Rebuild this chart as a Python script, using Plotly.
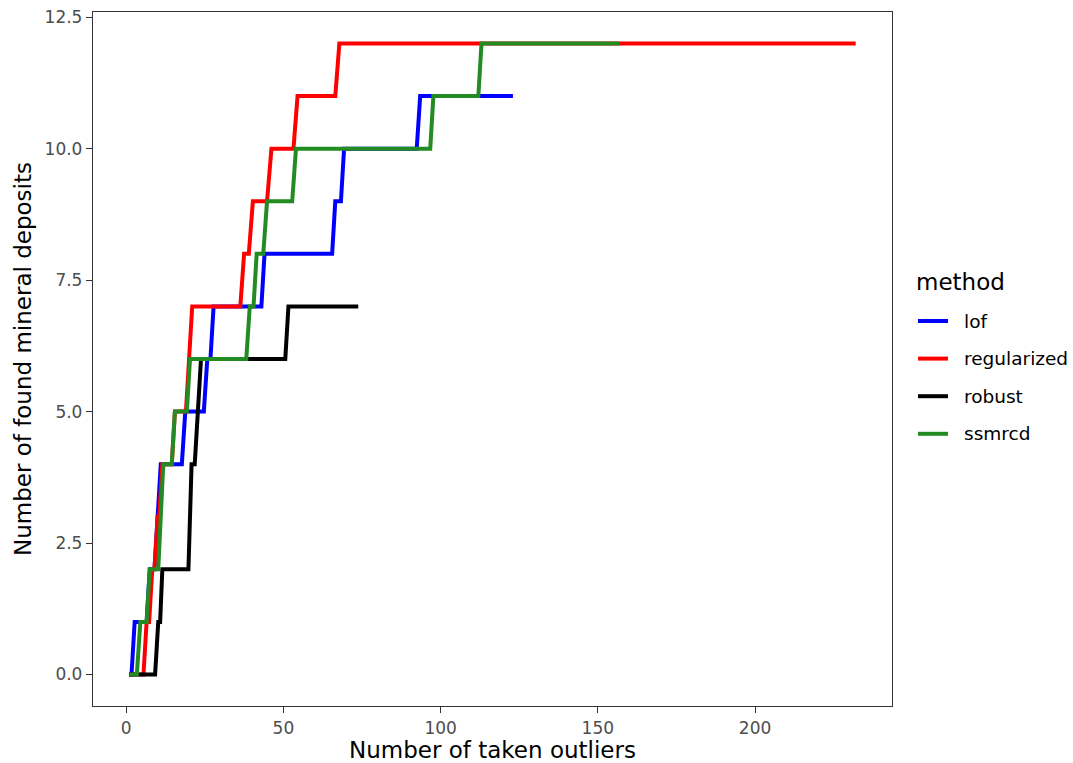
import plotly.graph_objects as go

# Corner points of each cumulative step line (x = number of taken outliers, y = found deposits)
methods = ["lof", "regularized", "robust", "ssmrcd"]
colors = {"lof": "#0000FF", "regularized": "#FF0000", "robust": "#000000", "ssmrcd": "#228B22"}

lof_x = [1, 1.7, 2.7, 6.5, 7.5, 9, 10, 11, 17.7, 18.8, 24.7, 25.8, 26.8, 27.8, 43, 44, 65.5, 66.5, 68.3, 69.3, 92.4, 93.5, 123]
lof_y = [0, 0, 1, 1, 2, 2, 3, 4, 4, 5, 5, 6, 6, 7, 7, 8, 8, 9, 9, 10, 10, 11, 11]

regularized_x = [1, 5.5, 6.5, 7.3, 8.3, 9, 10, 10.5, 11.5, 14.5, 15.5, 19, 20, 21, 36.3, 37.5, 39, 40.3, 44.8, 46.2, 53.2, 54.5, 66.5, 67.8, 232]
regularized_y = [0, 0, 1, 1, 2, 2, 3, 3, 4, 4, 5, 5, 6, 7, 7, 8, 8, 9, 9, 10, 10, 11, 11, 12, 12]

robust_x = [1, 9.2, 10.2, 10.8, 11.5, 19.8, 20.8, 21.8, 22.8, 23.8, 50.6, 51.6, 73.8]
robust_y = [0, 0, 1, 1, 2, 2, 4, 4, 5, 6, 6, 7, 7]

ssmrcd_x = [1, 3.4, 4.5, 6.5, 7.5, 10.2, 11.8, 14.5, 15.5, 19.3, 20.3, 38.2, 39.3, 40.5, 41.5, 43.6, 44.8, 52.8, 54, 96.7, 97.7, 112, 113, 157]
ssmrcd_y = [0, 0, 1, 1, 2, 2, 4, 4, 5, 5, 6, 6, 7, 7, 8, 8, 9, 9, 10, 10, 11, 11, 12, 12]

series = {
    "lof": (lof_x, lof_y),
    "regularized": (regularized_x, regularized_y),
    "robust": (robust_x, robust_y),
    "ssmrcd": (ssmrcd_x, ssmrcd_y),
}

x_ticks = [0, 50, 100, 150, 200]
y_ticks = [0, 2.5, 5, 7.5, 10, 12.5]
y_tick_labels = ["0.0", "2.5", "5.0", "7.5", "10.0", "12.5"]
legend_title = "method"

FONT = "DejaVu Sans, Liberation Sans, sans-serif"

W, H = 1073, 763
ML, MR, MT, MB = 93, 181, 12, 57
PW, PH = W - ML - MR, H - MT - MB


def px_x(px):
    return (px - ML) / PW


def px_y(py):
    return (H - MB - py) / PH


fig = go.Figure()
for m in methods:
    xs, ys = series[m]
    fig.add_trace(go.Scatter(
        x=xs, y=ys, mode="lines", name=m, showlegend=False,
        line=dict(color=colors[m], width=4),
    ))

# expanded ranges like ggplot (5% on each side)
all_x = lof_x + regularized_x + robust_x + ssmrcd_x
all_y = lof_y + regularized_y + robust_y + ssmrcd_y
xmin, xmax = min(all_x), max(all_x)
ymin, ymax = min(all_y), max(all_y)
xpad = (xmax - xmin) * 0.05
ypad = (ymax - ymin) * 0.05

# ggplot-style legend placed to the right of the panel
shapes = []
annotations = [dict(
    text=legend_title, xref="paper", yref="paper", x=px_x(914), y=px_y(282),
    xanchor="left", yanchor="middle", showarrow=False,
    font=dict(size=23, color="black"),
)]
for i, m in enumerate(methods):
    cy = 321 + i * 37.6
    shapes.append(dict(
        type="line", xref="paper", yref="paper",
        x0=px_x(918), x1=px_x(948), y0=px_y(cy), y1=px_y(cy),
        line=dict(color=colors[m], width=4),
    ))
    annotations.append(dict(
        text=m, xref="paper", yref="paper", x=px_x(962), y=px_y(cy),
        xanchor="left", yanchor="middle", showarrow=False,
        font=dict(size=18.5, color="black"),
    ))

fig.update_layout(
    width=W, height=H,
    margin=dict(l=ML, r=MR, t=MT, b=MB),
    paper_bgcolor="white", plot_bgcolor="white",
    font=dict(family=FONT, color="black"),
    showlegend=False,
    shapes=shapes,
    annotations=annotations,
    xaxis=dict(
        range=[xmin - xpad, xmax + xpad],
        tickvals=x_ticks, ticktext=[str(v) for v in x_ticks],
        ticks="outside", ticklen=6, tickwidth=1.3, tickcolor="#333333",
        tickfont=dict(size=17, color="#4d4d4d"),
        showgrid=False, zeroline=False, automargin=False,
        showline=True, linecolor="#333333", linewidth=1.3, mirror=True,
        title=dict(text="Number of taken outliers", font=dict(size=23, color="black"), standoff=6),
    ),
    yaxis=dict(
        range=[ymin - ypad, ymax + ypad],
        tickvals=y_ticks, ticktext=y_tick_labels,
        ticks="outside", ticklen=6, tickwidth=1.3, tickcolor="#333333",
        tickfont=dict(size=17, color="#4d4d4d"),
        showgrid=False, zeroline=False, automargin=False,
        showline=True, linecolor="#333333", linewidth=1.3, mirror=True,
        title=dict(text="Number of found mineral deposits", font=dict(size=23, color="black"), standoff=6),
    ),
)

fig.write_html("out.html")
